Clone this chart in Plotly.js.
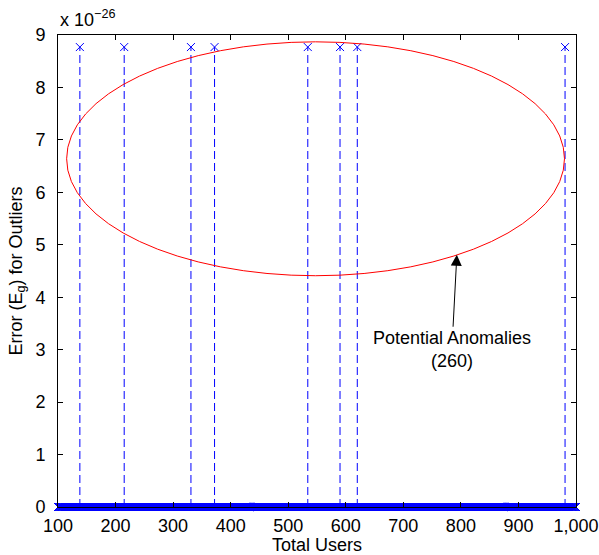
<!DOCTYPE html>
<html>
<head>
<meta charset="utf-8">
<script src="https://cdn.plot.ly/plotly-3.0.1.min.js"></script>
<style>html,body{margin:0;padding:0;background:#fff;}#chart{width:599px;height:555px;}</style>
</head>
<body>
<div id="chart"></div>
<script>
// ---- data (error values in units of 1e-26) ----
const userRange = [100, 1000];                 // total users shown
const outlierUsers = [138, 215, 331, 372, 534, 590, 620, 981];
const outlierError = 8.77;                     // x 10^-26
const yTickVals = [0, 1, 2, 3, 4, 5, 6, 7, 8, 9];
const yTickText = ['0', '1', '2', '3', '4', '5', '6', '7', '8', '9'];
const xTickVals = [100, 200, 300, 400, 500, 600, 700, 800, 900, 1000];
const xTickText = ['100', '200', '300', '400', '500', '600', '700', '800', '900', '1,000'];
// anomaly region ellipse (data coords) and annotation
const ellipseX = [115, 980];
const ellipseY = [4.41, 8.87];
const arrowPoint = [793, 4.81];
const annotationText = 'Potential Anomalies<br>(260)';

// every user index; error is zero except the outliers
const users = [];
for (let u = userRange[0]; u <= userRange[1]; u++) users.push(u);
const errors = users.map(u => outlierUsers.includes(u) ? outlierError : 0);

// stems for the non-zero errors
const stemX = [], stemY = [];
users.forEach((u, i) => {
  if (errors[i] !== 0) { stemX.push(u, u, null); stemY.push(0, errors[i], null); }
});

const FONT = 'Liberation Sans, Arial, Helvetica, sans-serif';

const traces = [
  {
    x: stemX, y: stemY, type: 'scatter', mode: 'lines',
    line: {color: 'rgb(0,0,255)', width: 1, dash: '8px,4px'},
    hoverinfo: 'skip', showlegend: false, cliponaxis: false
  },
  {
    x: users, y: errors, type: 'scatter', mode: 'markers',
    marker: {symbol: 'x-thin-open', size: 8, color: 'rgb(0,0,255)', line: {color: 'rgb(0,0,255)', width: 1}},
    showlegend: false, cliponaxis: false
  }
];

const layout = {
  width: 599, height: 555,
  margin: {l: 58, r: 23, t: 35, b: 48},
  paper_bgcolor: '#fff', plot_bgcolor: '#fff',
  font: {family: FONT, size: 18, color: '#000'},
  showlegend: false,
  xaxis: {
    range: userRange, tickvals: xTickVals, ticktext: xTickText,
    ticks: 'inside', ticklen: 5, tickcolor: '#000', tickwidth: 1,
    showline: true, linecolor: '#000', linewidth: 1, mirror: 'allticks',
    showgrid: false, zeroline: false, ticklabelstandoff: 2,
    tickfont: {family: FONT, size: 18},
    title: {text: 'Total Users', font: {family: FONT, size: 18}, standoff: 4},
    automargin: false
  },
  yaxis: {
    range: [0, 9], tickvals: yTickVals, ticktext: yTickText,
    ticks: 'inside', ticklen: 5, tickcolor: '#000', tickwidth: 1,
    showline: true, linecolor: '#000', linewidth: 1, mirror: 'allticks',
    showgrid: false, zeroline: false, ticklabelstandoff: 8,
    tickfont: {family: FONT, size: 18},
    title: {text: 'Error (E<sub>g</sub>) for Outliers', font: {family: FONT, size: 18}, standoff: 8},
    automargin: false
  },
  shapes: [{
    type: 'circle', xref: 'x', yref: 'y',
    x0: ellipseX[0], x1: ellipseX[1], y0: ellipseY[0], y1: ellipseY[1],
    line: {color: 'rgb(255,0,0)', width: 1}
  }],
  annotations: [
    {
      x: arrowPoint[0], y: arrowPoint[1], xref: 'x', yref: 'y',
      text: annotationText, showarrow: true, arrowhead: 2, arrowsize: 2.2,
      arrowwidth: 1, arrowcolor: '#000', ax: -5, ay: 95,
      font: {family: FONT, size: 18, color: '#000'}, align: 'center'
    },
    {
      x: 0, y: 1, xref: 'paper', yref: 'paper', xanchor: 'left', yanchor: 'bottom',
      xshift: 0, yshift: 3, showarrow: false,
      text: 'x 10<sup>−26</sup>', font: {family: FONT, size: 18, color: '#000'}
    }
  ]
};

Plotly.newPlot('chart', traces, layout, {displayModeBar: false, staticPlot: true});
</script>
</body>
</html>
